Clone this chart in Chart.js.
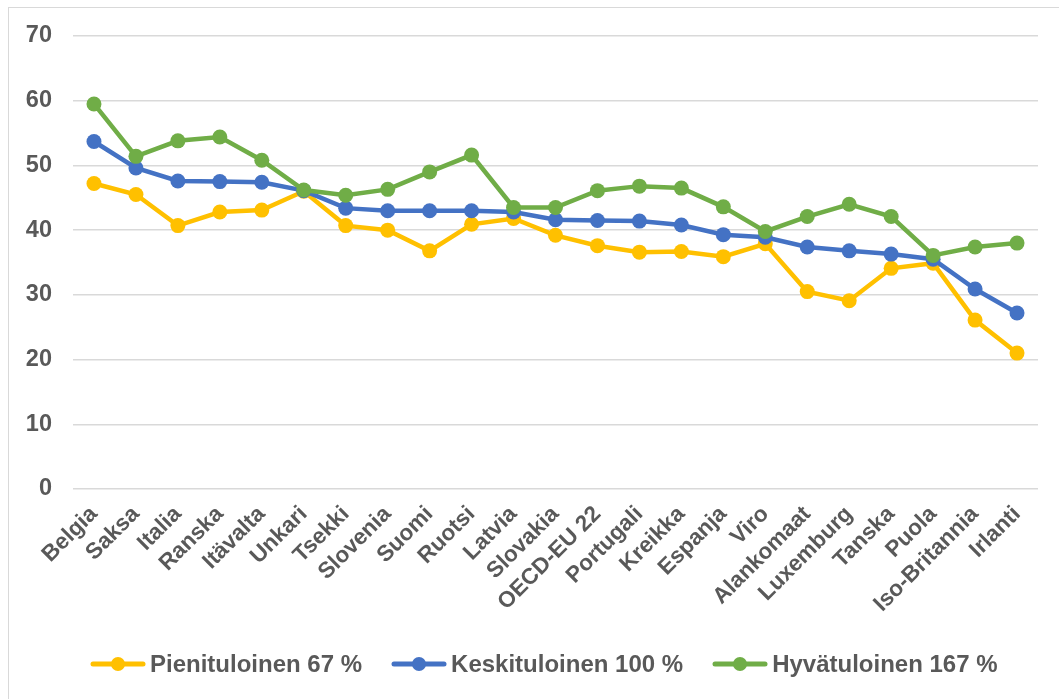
<!DOCTYPE html>
<html>
<head>
<meta charset="utf-8">
<script src="https://cdn.jsdelivr.net/npm/chart.js@4.4.1/dist/chart.umd.min.js"></script>
<style>
  html, body { margin: 0; padding: 0; background: #fff; overflow: hidden; }
  #wrap { position: relative; width: 1059px; height: 699px; overflow: hidden; }
  #frame { position: absolute; left: 8px; top: 7px; width: 1200px; height: 900px; border: 1px solid #d9d9d9; box-sizing: border-box; }
  #chart { position: absolute; left: 0; top: 0; }
  #legend { position: absolute; left: 90px; top: 648px; height: 32px; display: flex; align-items: center;
            font: bold 24px "Liberation Sans", Arial, sans-serif; color: #595959; white-space: nowrap; }
  .item { display: flex; align-items: center; margin-right: 29px; }
  .item canvas { margin-right: 4px; }
</style>
</head>
<body>
<div id="wrap">
  <div id="frame"></div>
  <canvas id="chart" width="1059" height="699"></canvas>
  <div id="legend"></div>
</div>
<script>
const countries = ["Belgia", "Saksa", "Italia", "Ranska", "Itävalta", "Unkari", "Tsekki", "Slovenia",
  "Suomi", "Ruotsi", "Latvia", "Slovakia", "OECD-EU 22", "Portugali", "Kreikka", "Espanja", "Viro",
  "Alankomaat", "Luxemburg", "Tanska", "Puola", "Iso-Britannia", "Irlanti"];

const lowIncome = [47.2, 45.5, 40.7, 42.8, 43.1, 46.0, 40.7, 40.0, 36.8, 40.9, 41.8, 39.2,
  37.6, 36.6, 36.7, 35.9, 37.9, 30.5, 29.1, 34.1, 34.9, 26.1, 21.0];
const midIncome = [53.7, 49.6, 47.6, 47.5, 47.4, 46.1, 43.4, 43.0, 43.0, 43.0, 42.8, 41.6,
  41.5, 41.4, 40.8, 39.3, 38.9, 37.4, 36.8, 36.3, 35.5, 30.9, 27.2];
const highIncome = [59.5, 51.4, 53.8, 54.4, 50.8, 46.2, 45.4, 46.3, 49.0, 51.6, 43.5, 43.5,
  46.1, 46.8, 46.5, 43.6, 39.8, 42.1, 44.0, 42.1, 36.1, 37.4, 38.0];

const seriesNames = ["Pienituloinen 67 %", "Keskituloinen 100 %", "Hyvätuloinen 167 %"];
const seriesColors = ["#FFC000", "#4472C4", "#70AD47"];
const yTicks = [0, 10, 20, 30, 40, 50, 60, 70];

const textColor = "#595959";
const fontFamily = '"Liberation Sans", Arial, sans-serif';

function lineSet(label, data, color, order) {
  return {
    label: label,
    data: data,
    borderColor: color,
    backgroundColor: color,
    borderWidth: 4.5,
    tension: 0,
    pointRadius: 7.5,
    pointBorderWidth: 0,
    pointBackgroundColor: color,
    order: order
  };
}

new Chart(document.getElementById("chart").getContext("2d"), {
  type: "line",
  data: {
    labels: countries,
    datasets: [
      lineSet(seriesNames[0], lowIncome, seriesColors[0], 2),
      lineSet(seriesNames[1], midIncome, seriesColors[1], 1),
      lineSet(seriesNames[2], highIncome, seriesColors[2], 0)
    ]
  },
  options: {
    responsive: false,
    animation: false,
    layout: { padding: { left: 0, top: 36, right: 21, bottom: 50 } },
    plugins: { legend: { display: false }, tooltip: { enabled: false } },
    scales: {
      x: {
        offset: true,
        grid: { display: false },
        border: { display: false },
        ticks: {
          autoSkip: false, maxRotation: 45, minRotation: 45, padding: 4,
          color: textColor, font: { family: fontFamily, size: 22.5, weight: "bold" }
        },
        afterFit: s => { s.height = 160; }
      },
      y: {
        min: yTicks[0],
        max: yTicks[yTicks.length - 1],
        grid: { color: "#d9d9d9", lineWidth: 1.5, drawTicks: false },
        border: { display: false },
        ticks: {
          stepSize: 10, padding: 21,
          color: textColor, font: { family: fontFamily, size: 23.5, weight: "bold" }
        },
        afterFit: s => { s.width = 73; }
      }
    }
  }
});

// legend: line with marker, as in the original
const legend = document.getElementById("legend");
seriesNames.forEach((name, i) => {
  const item = document.createElement("div");
  item.className = "item";
  const c = document.createElement("canvas");
  c.width = 56; c.height = 16;
  const g = c.getContext("2d");
  g.strokeStyle = seriesColors[i];
  g.lineWidth = 5;
  g.lineCap = "round";
  g.beginPath(); g.moveTo(3, 8); g.lineTo(53, 8); g.stroke();
  g.fillStyle = seriesColors[i];
  g.beginPath(); g.arc(28, 8, 7, 0, Math.PI * 2); g.fill();
  const t = document.createElement("span");
  t.textContent = name;
  item.appendChild(c);
  item.appendChild(t);
  legend.appendChild(item);
});
</script>
</body>
</html>
